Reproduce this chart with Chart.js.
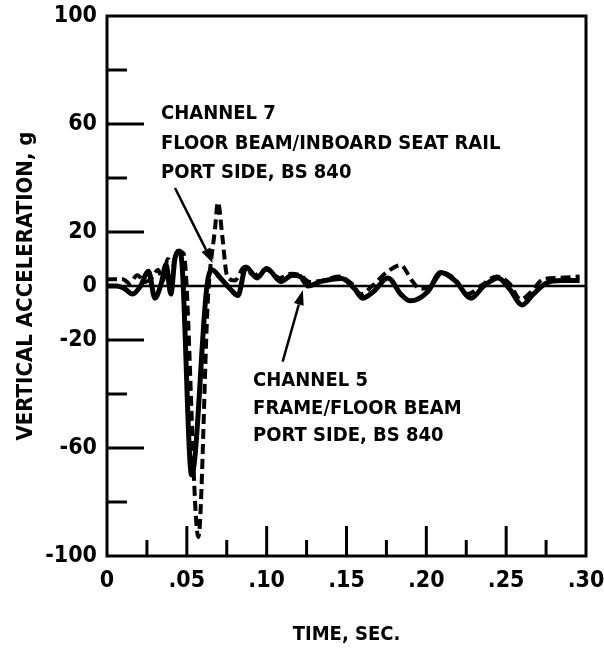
<!DOCTYPE html>
<html><head><meta charset="utf-8">
<script src="https://cdn.jsdelivr.net/npm/chart.js@4.4.1/dist/chart.umd.min.js"></script>
<style>html,body{margin:0;padding:0;background:#fff;}canvas{display:block;}</style>
</head><body>
<canvas id="c" width="604" height="653"></canvas>
<script>
// Channel 5: frame/floor beam (solid)
const ch5Time  = [0.000,0.006,0.011,0.016,0.021,0.026,0.030,0.034,0.037,0.040,0.0425,0.045,0.047,0.053,0.0626,0.0657,0.071,0.077,0.082,0.087,0.094,0.100,0.109,0.116,0.121,0.126,0.134,0.147,0.155,0.160,0.167,0.176,0.184,0.190,0.201,0.209,0.218,0.228,0.236,0.245,0.252,0.260,0.267,0.275,0.285,0.296];
const ch5Accel = [0,0,-1,-3,0,5.5,-4.5,1,8,-3,10,13,8,-70,0,6,3,-1,-3.5,7,3,6.5,1.7,4,3.5,0,1.7,2.8,-1,-4.5,-2,3,-3,-5.5,-2,5,2,-4.5,0,3,-1,-7,-3,1,2,2];
// Channel 7: floor beam/inboard seat rail (dashed)
const ch7Time  = [0.000,0.010,0.014,0.019,0.024,0.028,0.032,0.035,0.038,0.041,0.044,0.048,0.0572,0.0632,0.0676,0.0695,0.0723,0.0751,0.080,0.086,0.092,0.100,0.108,0.115,0.121,0.127,0.135,0.145,0.153,0.159,0.166,0.175,0.184,0.191,0.196,0.203,0.210,0.218,0.226,0.234,0.244,0.252,0.259,0.266,0.273,0.282,0.296];
const ch7Accel = [2.5,2.5,1,4,1.5,3,6,2,10,8,13,12,-93,-5,21,31,18,4,2,7,4,6,3,4.5,4,1.5,2,3.5,1,-3,0,5,7.7,2,-1,0,5,2.5,-3,0,3.5,1,-5,-2,2.5,3,3.5];
const yTickLabels = [100, 60, 20, 0, -20, -60, -100];
const yTickMarks = [-80, -60, -40, -20, 20, 40, 60, 80];
const xTickMarks = [0.025,0.05,0.075,0.10,0.125,0.15,0.175,0.20,0.225,0.25,0.275];
const ch7Label = ['CHANNEL 7', 'FLOOR BEAM/INBOARD SEAT RAIL', 'PORT SIDE, BS 840'];
const ch5Label = ['CHANNEL 5', 'FRAME/FLOOR BEAM', 'PORT SIDE, BS 840'];

const FF = "'DejaVu Sans Condensed','Liberation Sans',sans-serif";
const toPts = (t, a) => t.map((v, i) => ({x: v, y: a[i]}));

function line(ctx, x1, y1, x2, y2) { ctx.beginPath(); ctx.moveTo(x1, y1); ctx.lineTo(x2, y2); ctx.stroke(); }
function arrow(ctx, x1, y1, x2, y2) {
  ctx.lineWidth = 2.5;
  const ang = Math.atan2(y2 - y1, x2 - x1), L = 15, W = 5;
  const bx = x2 - L * Math.cos(ang), by = y2 - L * Math.sin(ang);
  line(ctx, x1, y1, bx, by);
  ctx.beginPath();
  ctx.moveTo(x2, y2);
  ctx.lineTo(bx + W * Math.sin(ang), by - W * Math.cos(ang));
  ctx.lineTo(bx - W * Math.sin(ang), by + W * Math.cos(ang));
  ctx.closePath(); ctx.fill();
}

const decor = {
  id: 'decor',
  afterDatasetsDraw(chart) {
    const {ctx, chartArea: a, scales: {x, y}} = chart;
    ctx.save();
    ctx.strokeStyle = '#000'; ctx.fillStyle = '#000'; ctx.lineCap = 'butt';
    ctx.lineWidth = 3;
    ctx.strokeRect(a.left, a.top, a.right - a.left, a.bottom - a.top);
    const y0 = y.getPixelForValue(0);
    ctx.lineWidth = 2.5; line(ctx, a.left, y0, a.right, y0);
    ctx.lineWidth = 3;
    xTickMarks.forEach((v, i) => {
      const px = x.getPixelForValue(v);
      const len = (i % 2 === 1) ? 30 : 16;
      line(ctx, px, a.bottom, px, a.bottom - len);
    });
    yTickMarks.forEach(v => {
      const py = y.getPixelForValue(v);
      const len = (Math.abs(v) % 40 === 20) ? 37 : 20;
      line(ctx, a.left, py, a.left + len, py);
    });
    arrow(ctx, x.getPixelForValue(0.0426), y.getPixelForValue(36.3), x.getPixelForValue(0.0662), y.getPixelForValue(8.5));
    arrow(ctx, x.getPixelForValue(0.110), y.getPixelForValue(-28), x.getPixelForValue(0.1227), y.getPixelForValue(-1.5));
    ctx.font = 'bold 20px ' + FF;
    ctx.textAlign = 'left'; ctx.textBaseline = 'middle';
    ch7Label.forEach((s, i) => ctx.fillText(s, x.getPixelForValue(0.0338), y.getPixelForValue(63.7) + i * 29.5));
    ch5Label.forEach((s, i) => ctx.fillText(s, x.getPixelForValue(0.0915), y.getPixelForValue(-35.2) + i * 27.5));
    ctx.restore();
  }
};

new Chart(document.getElementById('c'), {
  type: 'line',
  data: {
    datasets: [
      {label: 'Channel 5', data: toPts(ch5Time, ch5Accel), borderColor: '#000', borderWidth: 5, pointRadius: 0, cubicInterpolationMode: 'monotone', fill: false},
      {label: 'Channel 7', data: toPts(ch7Time, ch7Accel), borderColor: '#000', borderWidth: 4, borderDash: [10, 5], pointRadius: 0, cubicInterpolationMode: 'monotone', fill: false}
    ]
  },
  options: {
    responsive: false, animation: false,
    layout: {padding: {top: 16, right: 18, left: 0, bottom: 0}},
    plugins: {legend: {display: false}, tooltip: {enabled: false}},
    scales: {
      x: {
        type: 'linear', min: 0, max: 0.3,
        afterFit(s) { s.height = 97; s.paddingLeft = 0; s.paddingRight = 0; },
        grid: {display: false, drawTicks: false}, border: {display: false},
        ticks: {stepSize: 0.05, padding: 11, color: '#000', font: {family: FF, size: 23, weight: 'bold'},
          callback: v => Math.abs(v) < 1e-9 ? '0' : v.toFixed(2).replace(/^0/, '')},
        title: {display: true, text: 'TIME, SEC.', color: '#000', font: {family: FF, size: 20, weight: 'bold'}, padding: {top: 0, bottom: 6}}
      },
      y: {
        min: -100, max: 100,
        afterFit(s) { s.width = 107; s.paddingTop = 0; s.paddingBottom = 0; },
        grid: {display: false, drawTicks: false}, border: {display: false},
        ticks: {stepSize: 20, autoSkip: false, padding: 10, color: '#000', font: {family: FF, size: 23, weight: 'bold'},
          callback: v => yTickLabels.includes(v) ? String(v) : ''},
        title: {display: true, text: 'VERTICAL ACCELERATION, g', color: '#000', font: {family: FF, size: 22, weight: 'bold'}, padding: {top: 13, bottom: 0}}
      }
    }
  },
  plugins: [decor]
});
</script>
</body></html>
